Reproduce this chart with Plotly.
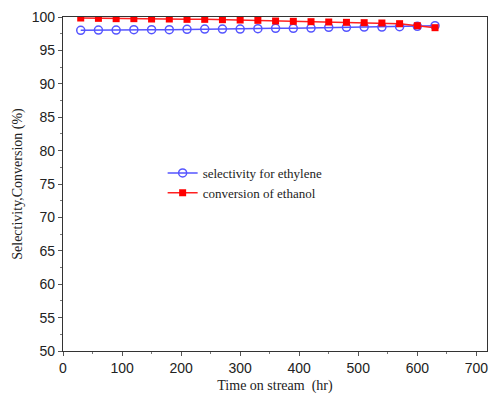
import plotly.graph_objects as go

time_hr = [30, 60, 90, 120, 150, 180, 210, 240, 270, 300, 330, 360, 390, 420, 450, 480, 510, 540, 570, 600, 630]
selectivity = [98.0, 98.05, 98.05, 98.1, 98.1, 98.1, 98.15, 98.2, 98.2, 98.2, 98.25, 98.3, 98.3, 98.35, 98.45, 98.45, 98.5, 98.5, 98.55, 98.6, 98.7]
conversion = [99.85, 99.8, 99.75, 99.75, 99.7, 99.7, 99.65, 99.65, 99.6, 99.55, 99.5, 99.4, 99.35, 99.3, 99.25, 99.2, 99.15, 99.1, 99.0, 98.7, 98.4]

fig = go.Figure()
fig.add_trace(go.Scatter(
    x=time_hr, y=selectivity, mode="lines+markers", name="selectivity for ethylene",
    line=dict(color="#5555ff", width=1.5),
    marker=dict(symbol="circle-open", size=8, color="#5555ff", line=dict(width=1.5)),
))
fig.add_trace(go.Scatter(
    x=time_hr, y=conversion, mode="lines+markers", name="conversion of ethanol",
    line=dict(color="#ff2020", width=1.5),
    marker=dict(symbol="square", size=7, color="#ff0000"),
))

axis_common = dict(
    showline=True, linecolor="#333333", linewidth=1.2, mirror=True,
    ticks="outside", ticklen=4, tickcolor="#555555",
    showgrid=False, zeroline=False,
    tickfont=dict(family="Liberation Sans, Arial", size=14, color="#222222"),
)

fig.update_xaxes(
    range=[0, 718], tickvals=[0, 100, 200, 300, 400, 500, 600, 700],
    minor=dict(dtick=50, ticks="outside", ticklen=2, tickcolor="#777777"),
    title=dict(text="Time on stream  (hr)", font=dict(family="Liberation Serif, Times New Roman", size=14, color="#222222"), standoff=5),
    **axis_common,
)
fig.update_yaxes(
    range=[50, 100], tickvals=[50, 55, 60, 65, 70, 75, 80, 85, 90, 95, 100],
    minor=dict(dtick=2.5, ticks="outside", ticklen=2, tickcolor="#777777"),
    title=dict(text="Selectivity,Conversion (%)", font=dict(family="Liberation Serif, Times New Roman", size=14, color="#222222"), standoff=5),
    **axis_common,
)

fig.update_layout(
    width=494, height=398,
    margin=dict(l=63, r=7, t=17, b=47),
    paper_bgcolor="white", plot_bgcolor="white",
    showlegend=True,
    legend=dict(
        x=0.235, y=0.578, xanchor="left", yanchor="top",
        bgcolor="rgba(0,0,0,0)", tracegroupgap=0,
        font=dict(family="Liberation Serif, Times New Roman", size=13, color="#222222"),
    ),
)

fig.write_html("out.html")
